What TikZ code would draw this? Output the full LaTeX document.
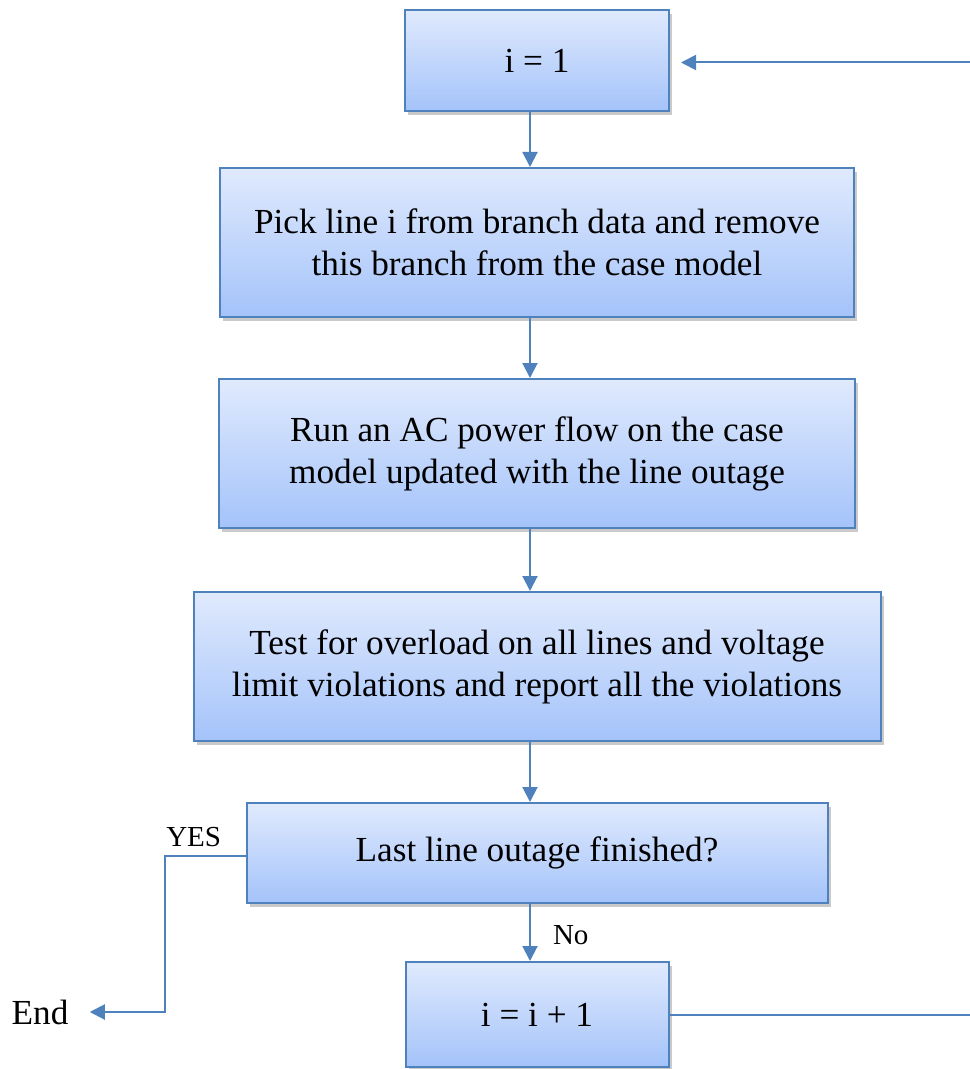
\documentclass[tikz,border=0pt]{standalone}
\usepackage{fontspec}
\setmainfont{Liberation Serif}
\usetikzlibrary{arrows.meta,shadows}

\definecolor{boxline}{RGB}{79,129,189}
\definecolor{boxtop}{RGB}{224,234,253}
\definecolor{boxbot}{RGB}{164,195,250}

\tikzset{
  stage/.style={draw=boxline, line width=1pt, top color=boxtop, bottom color=boxbot,
    align=center, inner sep=0pt, font=\fontsize{17.6}{21}\selectfont,
    drop shadow={shadow xshift=1.5pt, shadow yshift=-2pt, opacity=0.35, fill=black!60}},
  arr/.style={draw=boxline, line width=1pt, -{Triangle[length=7.5pt,width=7.5pt]}},
  lbl/.style={inner sep=0pt, font=\fontsize{14.5}{17}\selectfont}
}

\begin{document}
\begin{tikzpicture}[x=0.5pt, y=-0.5pt]
        \useasboundingbox (0,0) rectangle (969,1069);

        \node[stage, minimum width=132pt, minimum height=50.5pt] (start) at (537,60.5) {i = 1};
        \node[stage, minimum width=317pt, minimum height=74.5pt] (pick) at (537,242.5)
          {Pick line i from branch data and remove\\ this branch from the case model};
        \node[stage, minimum width=318pt, minimum height=74.5pt] (acpf) at (537,453.5)
          {Run an AC power flow on the case\\ model updated with the line outage};
        \node[stage, minimum width=343.5pt, minimum height=74.5pt] (test) at (537,666.5)
          {Test for overload on all lines and voltage\\ limit violations and report all the violations};
        \node[stage, minimum width=290.5pt, minimum height=50pt] (last) at (537,853) {Last line outage finished?};
        \node[stage, minimum width=131.5pt, minimum height=52.5pt] (inc) at (537,1014.5) {i = i + 1};
        \node[inner sep=0pt, font=\fontsize{17.6}{21}\selectfont] (end) at (40,1012) {End};

        \draw[arr] ([xshift=-3.5pt]start.south) -- ([xshift=-3.5pt]pick.north);
        \draw[arr] ([xshift=-3.5pt]pick.south) -- ([xshift=-3.5pt]acpf.north);
        \draw[arr] ([xshift=-3.5pt]acpf.south) -- ([xshift=-3.5pt]test.north);
        \draw[arr] ([xshift=-3.5pt]test.south) -- ([xshift=-3.5pt]last.north);
        \draw[arr] ([xshift=-3.5pt]last.south) -- node[lbl, pos=0.55, right=11pt] {No} ([xshift=-3.5pt]inc.north);
        \draw[arr] ([yshift=-1.5pt]last.west) -- node[lbl, pos=0.64, above=4pt] {YES} ++(-81,0)
          |- ([xshift=10.5pt]end.east);
        \draw[arr] (inc.east) -- ++(320,0) |- ([xshift=5.5pt,yshift=-1pt]start.east);
      \end{tikzpicture}
\end{document}
